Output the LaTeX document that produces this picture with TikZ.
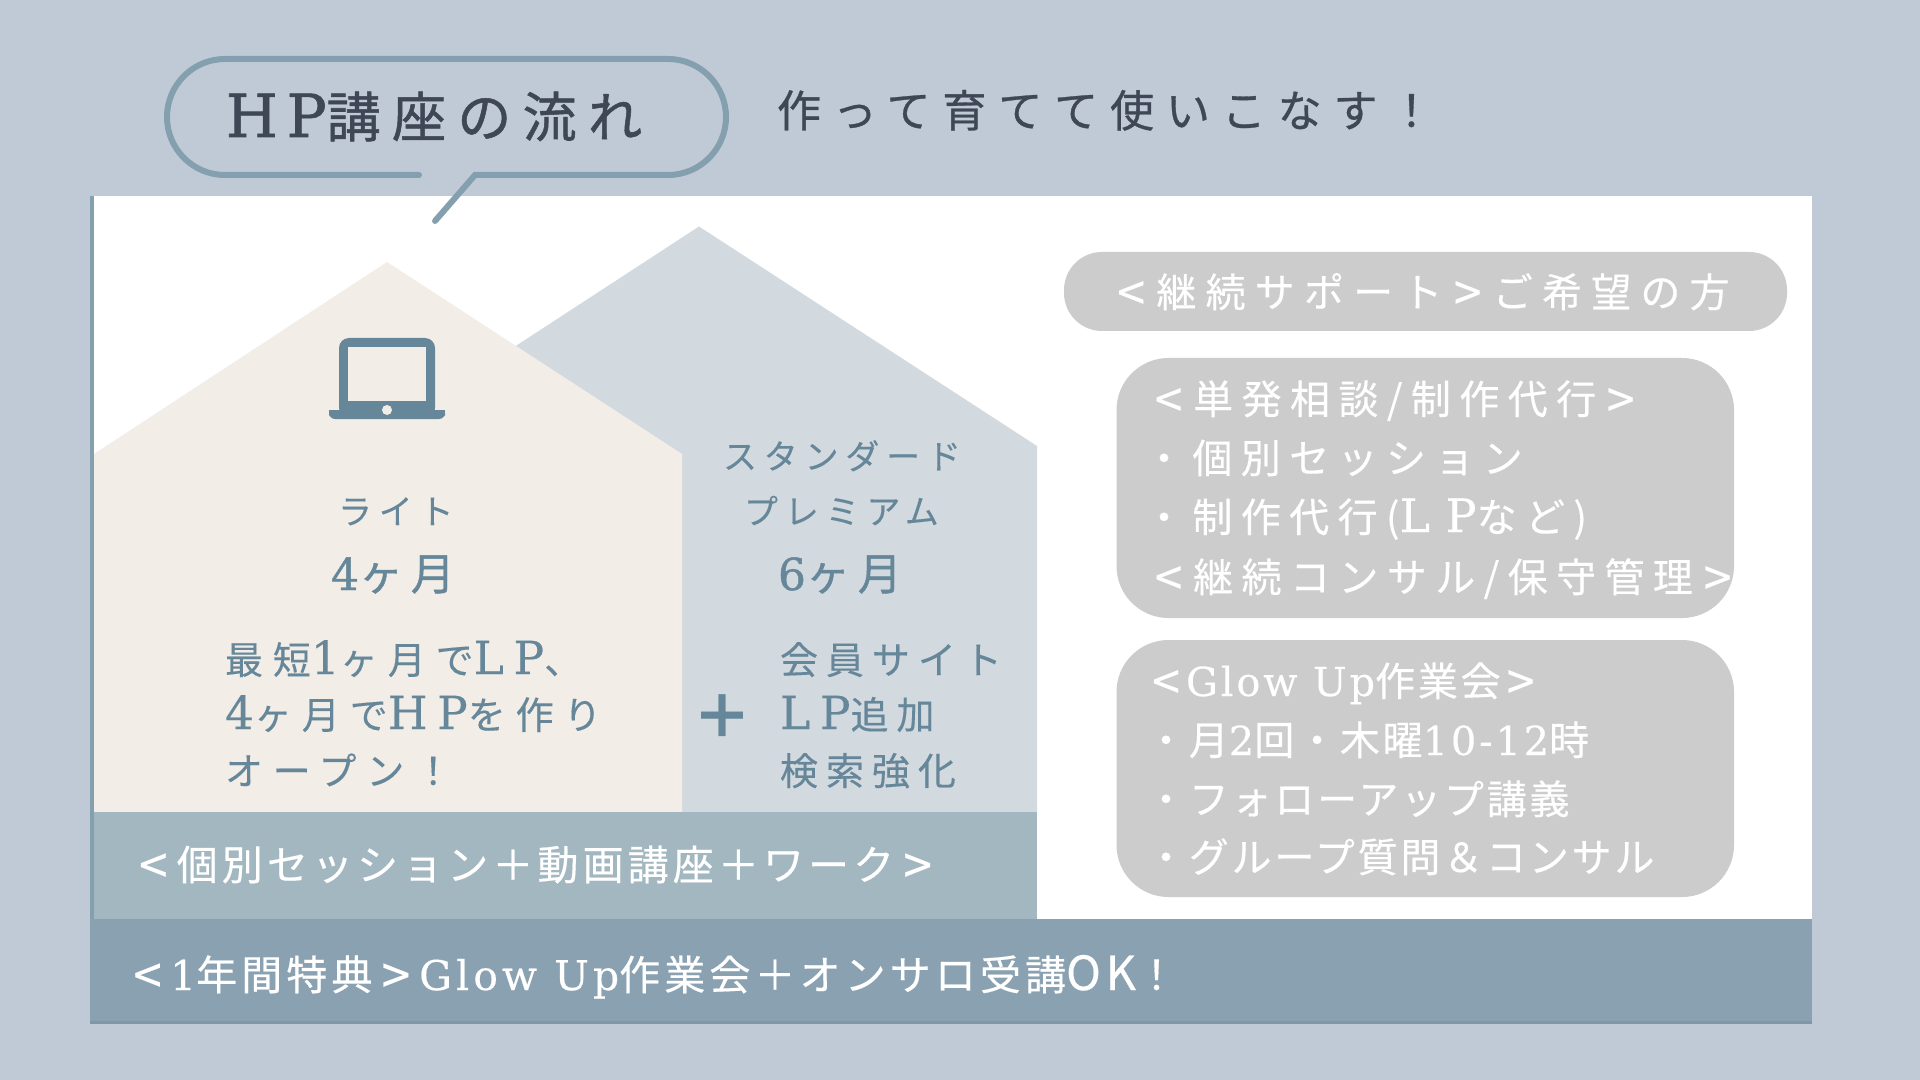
\documentclass[tikz,border=0pt]{standalone}
\usepackage{fontspec}
\setmainfont{Noto Sans CJK JP}
\newfontfamily\latfam{DejaVu Serif}
\definecolor{bgc}{HTML}{BFCAD6}
\definecolor{edgec}{HTML}{84A0AF}
\definecolor{creamc}{HTML}{F2EEE7}
\definecolor{housec}{HTML}{D3DADF}
\definecolor{bandc}{HTML}{A3B7C1}
\definecolor{barc}{HTML}{8AA1B1}
\definecolor{barline}{HTML}{7F98A8}
\definecolor{pillc}{HTML}{CCCCCC}
\definecolor{inkc}{HTML}{3F4756}
\definecolor{bluec}{HTML}{668799}
% size, letter space, fake bold
\newcommand\sz[3]{\def\curls{#2}\def\curfb{#3}\fontsize{#1}{#1}\selectfont\addfontfeature{LetterSpace=#2,FakeBold=#3}}
\def\latscale{1}
\newcommand\lat[2][\curls]{{\latfam\fontsize{\latscale\fontdimen6\font}{10}\selectfont\addfontfeature{LetterSpace=#1,FakeBold=\curfb}#2}}
\newcommand\LA[1][1.1]{\makebox[#1\fontdimen6\font][c]{\raisebox{-0.1em}{\fontsize{\dimexpr1.25\fontdimen6\font\relax}{10}\selectfont <}}}
\newcommand\RA[1][1.1]{\makebox[#1\fontdimen6\font][c]{\raisebox{-0.1em}{\fontsize{\dimexpr1.25\fontdimen6\font\relax}{10}\selectfont >}}}
\tikzset{
 lbl/.style={anchor=base west,inner sep=0pt,outer sep=0pt},
 titletext/.style={lbl,text=inkc},
 bluetext/.style={lbl,text=bluec},
 whitetext/.style={lbl,text=white},
 pill/.style={fill=pillc,draw=none}
}
\begin{document}
\begin{tikzpicture}[x=0.5pt,y=-0.5pt]
\useasboundingbox (0,0) rectangle (1920,1080);
\fill[bgc] (0,0) rectangle (1920,1080);
% panel
\fill[white] (94,196) rectangle (1812,920);
\fill[edgec] (89.5,196) rectangle (94,1024);
% houses
\fill[housec] (699,226.5) -- (1037,446) -- (1037,812) -- (350,812) -- (350,454) -- cycle;
\fill[creamc] (387,262) -- (682,454) -- (682,812) -- (94,812) -- (94,454) -- cycle;
% bands
\fill[bandc] (94,812) rectangle (1037,920);
\fill[barc] (89.5,919) rectangle (1812,1024);
\fill[barline] (89.5,1021) rectangle (1812,1024);
% bubble
\draw[edgec,line width=3pt,line cap=round,line join=miter,rounded corners=29pt]
 (419,175) -- (167,175) -- (167,59) -- (726,59) -- (726,175) [sharp corners] -- (475,175) -- (435,221);
% laptop
\fill[bluec,rounded corners=5pt] (339,338) rectangle (435,418);
\fill[bluec,rounded corners=3pt] (329,410) -- (445,410) -- (445,419) -- (329,419) -- cycle;
\fill[bluec] (329,410) rectangle (445,414);
\fill[creamc] (348,347) rectangle (426,401);
\fill[creamc] (387,410) circle[radius=5];
% title
\node[titletext] (title) at (226,137) {\def\latscale{1.1}\sz{27pt}{21}{1}\lat[15]{HP}講座の流れ};
\node[titletext] (sub) at (777,127) {\sz{22pt}{27}{0.7}作って育てて使いこなす！};
% house text
\node[bluetext] (lite) at (338,524) {\sz{17pt}{20}{0.3}ライト};
\node[bluetext] (litem) at (331,590) {\sz{22pt}{18}{1}\lat{4}ヶ月};
\node[bluetext] (std) at (723,469) {\sz{17pt}{20}{0.3}スタンダード};
\node[bluetext] (pre) at (744,524) {\sz{17pt}{20}{0.3}プレミアム};
\node[bluetext] (stdm) at (778,590) {\sz{22pt}{18}{1}\lat{6}ヶ月};
\node[bluetext] (a1) at (225,674) {\def\latscale{1.2}\sz{19pt}{26}{0.3}最短\lat[21]{1}ヶ月で\lat[21]{LP}、};
\node[bluetext] (a2) at (225,729) {\def\latscale{1.2}\sz{19pt}{26}{0.3}\lat[21]{4}ヶ月で\lat[21]{HP}を作り};
\node[bluetext] (a3) at (225,785) {\sz{19pt}{26}{0.3}オープン！};
\node[text=bluec,inner sep=0pt,font=\bfseries\fontsize{30pt}{30pt}\selectfont] (plus) at (722,717) {＋};
\node[bluetext] (b1) at (780,674) {\sz{19pt}{21}{0.3}会員サイト};
\node[bluetext] (b2) at (780,729) {\def\latscale{1.2}\sz{19pt}{21}{0.3}\lat{LP}追加};
\node[bluetext] (b3) at (780,785) {\sz{19pt}{21}{0.3}検索強化};
% band text
\node[whitetext] (band) at (130,880) {\sz{20.5pt}{10}{0.4}\LA[1.14]個別セッション＋動画講座＋ワーク\RA[1.14]};
\node[whitetext] (bar) at (125,990) {\sz{20.5pt}{10}{0.4}\LA[1.1]\lat{1}年間特典\RA[1.14]\lat{Glow Up}作業会＋オンサロ受講{\fontsize{23.5pt}{10}\selectfont OK}！};
% pills
\fill[pill,rounded corners=19pt] (1064,252) rectangle (1787,331);
\fill[pill,rounded corners=26pt] (1116.5,358) rectangle (1734,618);
\fill[pill,rounded corners=26pt] (1116.5,640) rectangle (1734,897);
\node[whitetext] (p1) at (1106,307) {\sz{20pt}{23}{0.3}\LA[1.26]継続サポート\RA[1.26]ご希望の方};
\node[whitetext] (c1) at (1144,414) {\sz{20pt}{21}{0.3}\LA[1.23]単発相談/制作代行\RA[1.23]};
\node[whitetext] (c2) at (1144,473) {\sz{20pt}{21}{0.3}・個別セッション};
\node[whitetext] (c3) at (1144,532) {\def\latscale{1.15}\sz{20pt}{21}{0.3}・制作代行(\lat[34]{LP}など)};
\node[whitetext] (c4) at (1144,592) {\sz{20pt}{21}{0.3}\LA[1.23]継続コンサル/保守管理\RA[1.23]};
\node[whitetext] (d1) at (1146,696) {\sz{20pt}{7}{0.3}\LA[1.0]\lat{Glow Up}作業会\RA[1.0]};
\node[whitetext] (d2) at (1146,755) {\sz{20pt}{7}{0.3}・月\lat{2}回・木曜\lat{10-12}時};
\node[whitetext] (d3) at (1146,814) {\sz{20pt}{7}{0.3}・フォローアップ講義};
\node[whitetext] (d4) at (1146,872) {\sz{20pt}{7}{0.3}・グループ質問＆コンサル};
\end{tikzpicture}
\end{document}
